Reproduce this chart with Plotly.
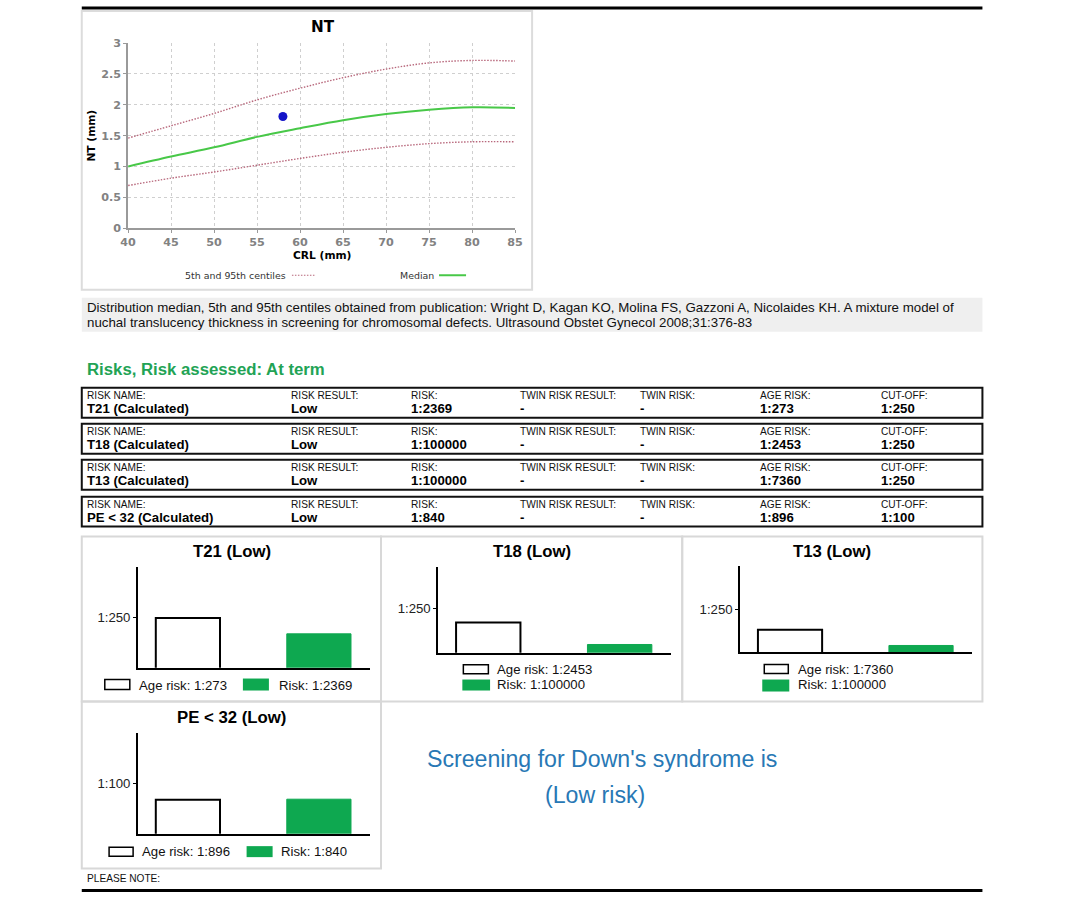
import plotly.graph_objects as go

FIG_W, FIG_H = 1075, 919
# picture-space calibration (measured from previous renders)
SCX, OFFX = 0.9844, 8.28
SCY, OFFY = 0.9864, 5.1
K = 1 / 0.985  # font/size compensation


def fx(px):
    return ((px - OFFX) / SCX) / FIG_W


def fy(py):
    return 1 - ((py - OFFY) / SCY) / FIG_H


def fs(size):
    return round(size * K, 2)


# ---------------- data ----------------
crl = [40, 45, 50, 55, 60, 65, 70, 75, 80, 85]
nt_median = [1.00, 1.16, 1.31, 1.48, 1.62, 1.75, 1.85, 1.92, 1.96, 1.95]
nt_p95 = [1.46, 1.66, 1.86, 2.08, 2.27, 2.44, 2.58, 2.68, 2.72, 2.71]
nt_p5 = [0.69, 0.81, 0.91, 1.02, 1.13, 1.23, 1.31, 1.37, 1.40, 1.40]
patient_crl = [58]
patient_nt = [1.81]
crl_ticks = [40, 45, 50, 55, 60, 65, 70, 75, 80, 85]
nt_ticks = [0, 0.5, 1, 1.5, 2, 2.5, 3]

table_headers = ["RISK NAME:", "RISK RESULT:", "RISK:", "TWIN RISK RESULT:",
                 "TWIN RISK:", "AGE RISK:", "CUT-OFF:"]
risk_names = ["T21 (Calculated)", "T18 (Calculated)", "T13 (Calculated)", "PE < 32 (Calculated)"]
risk_results = ["Low", "Low", "Low", "Low"]
risks = ["1:2369", "1:100000", "1:100000", "1:840"]
twin_results = ["-", "-", "-", "-"]
twin_risks = ["-", "-", "-", "-"]
age_risks = ["1:273", "1:2453", "1:7360", "1:896"]
cutoffs = ["1:250", "1:250", "1:250", "1:100"]
panel_names = ["T21", "T18", "T13", "PE < 32"]
bar_categories = ["Age risk", "Risk"]

citation_lines = [
    "Distribution median, 5th and 95th centiles obtained from publication: Wright D, Kagan KO, Molina FS, Gazzoni A, Nicolaides KH. A mixture model of",
    "nuchal translucency thickness in screening for chromosomal defects. Ultrasound Obstet Gynecol 2008;31:376-83",
]


def ratio_to_prob(s):
    a, b = s.split(":")
    return float(a) / float(b)


# ---------------- styling ----------------
GREEN = "#0ea850"
TITLE_GREEN = "#22a355"
BLUE = "#2878b5"
CENTILE = "#b8687c"
MEDIAN = "#48c848"
GRID = "#cfcfcf"
ARIAL = "Arial, Liberation Sans, sans-serif"
DEJAVU = "DejaVu Sans, sans-serif"

fig = go.Figure()
shapes = []
annotations = []


def rect(x0, y0, x1, y1, line_color="black", line_width=1, fill=None):
    d = dict(type="rect", xref="paper", yref="paper",
             x0=fx(x0), x1=fx(x1), y0=fy(y1), y1=fy(y0),
             line=dict(color=line_color, width=line_width))
    if fill:
        d["fillcolor"] = fill
    if line_width == 0:
        d["line"] = dict(width=0)
    shapes.append(d)


def hline(x0, x1, y, color="black", width=1, dash=None):
    d = dict(type="line", xref="paper", yref="paper",
             x0=fx(x0), x1=fx(x1), y0=fy(y), y1=fy(y),
             line=dict(color=color, width=width))
    if dash:
        d["line"]["dash"] = dash
    shapes.append(d)


def text(x, y, s, size=12, color="black", family=ARIAL, anchor="left", bold=False, angle=0):
    annotations.append(dict(
        x=fx(x), y=fy(y), xref="paper", yref="paper", text=s, showarrow=False,
        xanchor=anchor, yanchor="middle", textangle=angle,
        font=dict(size=fs(size), color=color, family=family, weight="bold" if bold else "normal"),
    ))


# page rules
hline(82, 982, 7, width=3)
hline(82, 982, 890, width=3)

# ---------------- NT chart ----------------
rect(82, 10, 532, 289, line_color="#dcdcdc", line_width=2)
fig.add_trace(go.Scatter(x=crl, y=nt_p95, mode="lines",
                         line=dict(color=CENTILE, width=1.4, dash="1.5px,1.5px", shape="spline"),
                         xaxis="x", yaxis="y", hoverinfo="skip"))
fig.add_trace(go.Scatter(x=crl, y=nt_p5, mode="lines",
                         line=dict(color=CENTILE, width=1.4, dash="1.5px,1.5px", shape="spline"),
                         xaxis="x", yaxis="y", hoverinfo="skip"))
fig.add_trace(go.Scatter(x=crl, y=nt_median, mode="lines", line=dict(color=MEDIAN, width=2, shape="spline"),
                         xaxis="x", yaxis="y", hoverinfo="skip"))
fig.add_trace(go.Scatter(x=patient_crl, y=patient_nt, mode="markers",
                         marker=dict(color="#1414c8", size=9), xaxis="x", yaxis="y"))

tick_font = dict(family=DEJAVU, size=fs(11), color="#828282", weight="bold")
axis_common = dict(showgrid=True, gridcolor=GRID, griddash="dot", gridwidth=1, zeroline=False,
                   showline=True, linecolor="#9a9a9a", linewidth=1.5, ticks="outside", ticklen=3,
                   tickcolor="#9a9a9a", tickfont=tick_font)
layout_axes = {}
layout_axes["xaxis"] = dict(domain=[fx(128.3), fx(515)], range=[40, 85], tickvals=crl_ticks,
                            anchor="y", **axis_common)
layout_axes["yaxis"] = dict(domain=[fy(227.3), fy(42.3)], range=[0, 3], tickvals=nt_ticks,
                            ticktext=[("%g" % v) for v in nt_ticks], anchor="x", **axis_common)

text(323, 26, "NT", size=15, family=DEJAVU, anchor="center", bold=True)
text(322, 255, "CRL (mm)", size=10.5, family=DEJAVU, anchor="center", bold=True)
text(92, 135, "NT (mm)", size=10.5, family=DEJAVU, anchor="center", bold=True, angle=-90)
text(183, 274.5, "5th and 95th centiles", size=9.3, family=DEJAVU, color="#333333")
hline(292, 316, 274.5, color=CENTILE, width=1.2, dash="1.5px,1.5px")
text(398, 274.5, "Median", size=9.3, family=DEJAVU, color="#333333")
hline(439, 466, 274.5, color=MEDIAN, width=2)

# citation
rect(82, 297, 982, 331, line_width=0, fill="#efefef")
text(85, 307, citation_lines[0], size=13.1, color="#111111")
text(85, 322, citation_lines[1], size=13.1, color="#111111")

# risks heading
text(85, 369, "Risks, Risk assessed: At term", size=16.5, color=TITLE_GREEN, bold=True)

# ---------------- table ----------------
col_x = [85, 289, 409, 518, 638, 758, 879]
row_tops = [387, 423, 459, 496]
for i, top in enumerate(row_tops):
    rect(82, top, 982, top + 30, line_color="#111111", line_width=2)
    values = [risk_names[i], risk_results[i], risks[i], twin_results[i], twin_risks[i], age_risks[i], cutoffs[i]]
    for j, cx in enumerate(col_x):
        text(cx, top + 8, table_headers[j], size=10, color="#111111")
        text(cx, top + 20.5, values[j], size=13, color="#000000", bold=True)

# ---------------- bar panels ----------------
for (x0, y0, x1, y1) in [(82, 536, 381, 701), (381, 536, 682, 701), (682, 536, 982, 701), (82, 701, 381, 868)]:
    rect(x0, y0, x1, y1, line_color="#d8d8d8", line_width=2)

panels = [
    dict(n=2, x0=138.3, x1=370, yt=566.7, yb=667.3, yr=[-5.374, 0.54], tx=231.7, ty=551,
         leg=[(105, 679, 130, 689, 136.7, 684.5), (243, 678, 269, 690, 277, 684.5)]),
    dict(n=3, x0=438.3, x1=670.7, yt=566.7, yb=652.3, yr=[-5.61, 0.64], tx=531.7, ty=551,
         leg=[(463.3, 664.3, 488.3, 673.3, 495, 668.8), (462.3, 679, 490, 690, 495, 684.3)]),
    dict(n=4, x0=740, x1=971.7, yt=565, yb=651.7, yr=[-5.49, 0.79], tx=831.7, ty=551,
         leg=[(764, 664, 788, 673, 796, 668.5), (762, 679, 789, 691, 796, 684.3)]),
    dict(n=5, x0=138.3, x1=370, yt=732.7, yb=833.3, yr=[-4.91, 0.87], tx=231.7, ty=717,
         leg=[(109.3, 846.7, 133.3, 855.7, 140, 851.3), (246.7, 845.7, 272.7, 856.7, 279.3, 851.3)]),
]

xr = [-0.38, 1.39]
for k, p in enumerate(panels):
    n = p["n"]
    xa, ya = "x%d" % n, "y%d" % n
    age_p = ratio_to_prob(age_risks[k])
    risk_p = ratio_to_prob(risks[k])
    cut_p = ratio_to_prob(cutoffs[k])
    fig.add_trace(go.Bar(x=bar_categories, y=[age_p, risk_p], width=0.49,
                         marker=dict(color=["white", GREEN], line=dict(color=["black", GREEN], width=[2, 1])),
                         xaxis=xa, yaxis=ya, hoverinfo="skip"))
    fig.add_trace(go.Scatter(x=[xr[0], xr[1]], y=[cut_p, cut_p], mode="lines",
                             line=dict(color="black", width=1.2, dash="4px,3px"),
                             xaxis=xa, yaxis=ya, hoverinfo="skip"))
    layout_axes["xaxis%d" % n] = dict(domain=[fx(p["x0"]), fx(p["x1"])], range=xr, type="category",
                                      anchor=ya, showline=True, linecolor="black", linewidth=2,
                                      showgrid=False, zeroline=False, showticklabels=False, ticks="")
    layout_axes["yaxis%d" % n] = dict(domain=[fy(p["yb"]), fy(p["yt"])], range=p["yr"], type="log",
                                      anchor=xa, showline=True, linecolor="black", linewidth=2,
                                      showgrid=False, zeroline=False, tickvals=[cut_p], ticktext=[cutoffs[k]],
                                      ticks="outside", ticklen=3, tickcolor="black",
                                      tickfont=dict(family=ARIAL, size=fs(13), color="#222222"))
    text(p["tx"], p["ty"], "%s (%s)" % (panel_names[k], risk_results[k]), size=16.5, anchor="center", bold=True)
    (a0, b0, a1, b1, tx0, ty0), (c0, d0, c1, d1, tx1, ty1) = p["leg"]
    rect(a0, b0, a1, b1, line_color="black", line_width=1.5, fill="white")
    text(tx0, ty0, "Age risk: %s" % age_risks[k], size=13, color="#111111")
    rect(c0, d0, c1, d1, line_width=0, fill=GREEN)
    text(tx1, ty1, "Risk: %s" % risks[k], size=13, color="#111111")

# summary text
text(602, 759, "Screening for Down's syndrome is", size=22.8, color=BLUE, anchor="center")
text(595, 795, "(Low risk)", size=22.8, color=BLUE, anchor="center")

text(85, 878, "PLEASE NOTE:", size=10, color="#111111")

fig.update_layout(
    width=FIG_W, height=FIG_H, margin=dict(l=0, r=0, t=0, b=0),
    paper_bgcolor="white", plot_bgcolor="white", showlegend=False,
    shapes=shapes, annotations=annotations, **layout_axes,
)

fig.write_html("out.html", config={"displayModeBar": False},
               post_script="document.body.style.margin='0px';document.body.style.overflow='hidden';")
